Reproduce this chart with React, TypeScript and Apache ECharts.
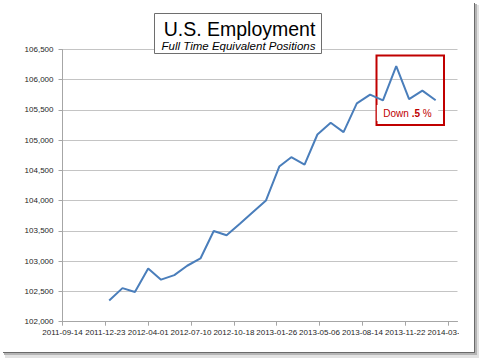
import React, { useEffect, useRef } from "react";
import * as echarts from "echarts";

// ---- data ----
const X_ORIGIN = "2011-09-14";
const X_MAX_DAYS = 922;
const X_INTERVAL_DAYS = 100;

const months = [
  "2012-01-01", "2012-02-01", "2012-03-01", "2012-04-01", "2012-05-01", "2012-06-01",
  "2012-07-01", "2012-08-01", "2012-09-01", "2012-10-01", "2012-11-01", "2012-12-01",
  "2013-01-01", "2013-02-01", "2013-03-01", "2013-04-01", "2013-05-01", "2013-06-01",
  "2013-07-01", "2013-08-01", "2013-09-01", "2013-10-01", "2013-11-01", "2013-12-01",
  "2014-01-01", "2014-02-01",
];
const employment = [
  102350, 102555, 102490, 102880, 102695, 102770,
  102925, 103045, 103500, 103430, 103620, 103810,
  104005, 104565, 104720, 104595, 105095, 105290,
  105135, 105610, 105755, 105660, 106225, 105680,
  105820, 105660,
];
const Y_MIN = 102000;
const Y_MAX = 106500;
const Y_INTERVAL = 500;

const titleText = "U.S. Employment";
const subtitleText = "Full Time Equivalent Positions";
const noteParts = ["Down ", ".5", " %"];

const DAY = 86400000;
const originMs = Date.parse(X_ORIGIN);
const dayOf = (s: string) => Math.round((Date.parse(s) - originMs) / DAY);
const fmtDay = (v: number) => new Date(originMs + v * DAY).toISOString().slice(0, 10);
const fmtNum = (v: number) => String(v).replace(/\B(?=(\d{3})+(?!\d))/g, ",");

export default function App() {
  const ref = useRef<HTMLDivElement>(null);
  useEffect(() => {
    if (!ref.current) return;
    const chart = echarts.init(ref.current, undefined, { renderer: "svg" });
    const font = "Liberation Sans";
    chart.setOption({
      animation: false,
      grid: { left: 62.5, right: 21.5, top: 49.5, bottom: 36.3, containLabel: false },
      xAxis: {
        type: "value",
        min: 0,
        max: X_MAX_DAYS,
        interval: X_INTERVAL_DAYS,
        axisLine: { show: true, lineStyle: { color: "#a6a6a6", width: 1 } },
        axisTick: { show: true, inside: false, length: 4, lineStyle: { color: "#a6a6a6" } },
        splitLine: { show: false },
        axisLabel: {
          formatter: (v: number) => fmtDay(v),
          fontFamily: font,
          fontSize: 8,
          color: "#262626",
          margin: 7,
          showMaxLabel: false,
        },
      },
      yAxis: {
        type: "value",
        min: Y_MIN,
        max: Y_MAX,
        interval: Y_INTERVAL,
        axisLine: { show: true, lineStyle: { color: "#a6a6a6", width: 1 } },
        axisTick: { show: true, inside: false, length: 4, lineStyle: { color: "#a6a6a6" } },
        splitLine: { show: true, lineStyle: { color: "#c4c4c4", width: 1 } },
        axisLabel: {
          formatter: (v: number) => fmtNum(v),
          fontFamily: font,
          fontSize: 8,
          color: "#262626",
          margin: 9,
        },
      },
      series: [
        {
          type: "line",
          data: months.map((m, i) => [dayOf(m), employment[i]]),
          showSymbol: false,
          symbol: "none",
          lineStyle: { color: "#4a7ebb", width: 2 },
          z: 2,
        },
      ],
      graphic: [
        // frame shadow
        { type: "rect", z: -5, silent: true, shape: { x: 5, y: 5, width: 474, height: 353 }, style: { fill: "#e2e2e2" } },
        { type: "rect", z: -4, silent: true, shape: { x: 4, y: 4, width: 473, height: 351 }, style: { fill: "#b4b4b4" } },
        { type: "rect", z: -3, silent: true, shape: { x: 3, y: 3, width: 472, height: 350 }, style: { fill: "#6a6a6a" } },
        { type: "rect", z: -2, silent: true, shape: { x: 0, y: 0, width: 474, height: 352 }, style: { fill: "#ffffff" } },
        // cover for clipped last x label
        { type: "rect", z: 20, silent: true, shape: { x: 459, y: 326, width: 14.5, height: 16 }, style: { fill: "#ffffff" } },
        // title box
        {
          type: "rect", z: 10, silent: true,
          shape: { x: 154.5, y: 13.5, width: 167, height: 40 },
          style: { fill: "#ffffff", stroke: "#6e6e6e", lineWidth: 1 },
        },
        {
          type: "text", z: 11, silent: true, x: 239.5, y: 29,
          style: {
            text: titleText, fill: "#000000", fontFamily: font, fontSize: 19.5,
            align: "center", verticalAlign: "middle",
          },
        },
        {
          type: "text", z: 11, silent: true, x: 238.5, y: 45.5,
          style: {
            text: subtitleText, fill: "#000000", fontFamily: font, fontSize: 11.5,
            fontStyle: "italic", align: "center", verticalAlign: "middle",
          },
        },
        // red callout box
        {
          type: "rect", z: 1, silent: true,
          shape: { x: 376.5, y: 55.5, width: 67.5, height: 69.5 },
          style: { fill: "none", stroke: "#c00000", lineWidth: 2 },
        },
        {
          type: "text", z: 1, silent: true, x: 407.5, y: 113,
          style: {
            text: `{a|${noteParts[0]}}{b|${noteParts[1]}}{a|${noteParts[2]}}`,
            rich: {
              a: { fill: "#c00000", fontFamily: font, fontSize: 10 },
              b: { fill: "#c00000", fontFamily: font, fontSize: 10, fontWeight: "bold" },
            },
            align: "center", verticalAlign: "middle",
            backgroundColor: "#ffffff",
            padding: [3, 6.5, 3, 6.5],
          },
        },
      ],
    });
    return () => chart.dispose();
  }, []);
  return (
    <div
      ref={ref}
      style={{ position: "absolute", left: 0, top: 0, width: 479, height: 358 }}
    />
  );
}
